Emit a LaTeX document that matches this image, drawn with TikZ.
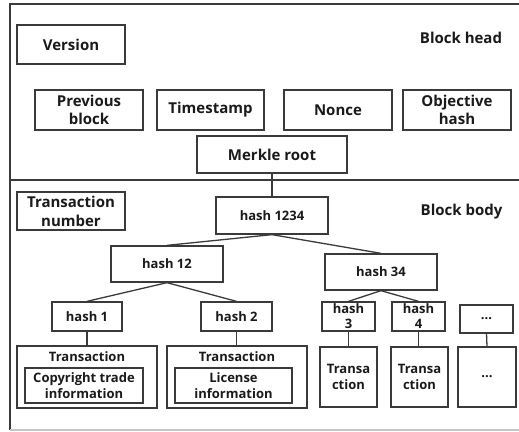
\documentclass[tikz,border=0pt]{standalone}
\usepackage{fontspec}
\setmainfont{Open Sans}
\definecolor{linec}{HTML}{3A3A3A}
\definecolor{textc}{HTML}{1A1A1A}
\begin{document}
\begin{tikzpicture}[x=1pt,y=-1pt,
  box/.style={draw=linec, line width=1.3pt, inner sep=0pt, align=center,
    text=textc, font=\bfseries\fontsize{15}{17.6}\selectfont},
  small/.style={font=\bfseries\fontsize{13}{15.5}\selectfont},
  lbl/.style={inner sep=0pt, align=center, text=textc,
    font=\bfseries\fontsize{13}{15}\selectfont},
  link/.style={draw=linec, line width=1.3pt},
  frame/.style={draw=linec, line width=1.3pt}]
\useasboundingbox (0,0) rectangle (519,431);

% outer frame and the head/body divider
\draw[frame] (10,430) -- (10,4) -- (530,4);
\draw[frame] (10,180) -- (530,180);
\draw[draw=gray!45, line width=1.3pt] (10,430) -- (530,430);

% block head
\node[box, minimum width=108pt, minimum height=39pt] (version) at (71,44.5) {Version};
\node[lbl, font=\bfseries\fontsize{15}{17}\selectfont] (headlbl) at (461,38) {Block head};
\node[box, minimum width=108pt, minimum height=40pt] (prev) at (89,110) {Previous\\block};
\node[box, minimum width=107pt, minimum height=40pt] (time) at (210.5,110) {Timestamp};
\node[box, minimum width=108pt, minimum height=40pt] (nonce) at (338,110) {Nonce};
\node[box, minimum width=108pt, minimum height=40pt] (target) at (457,110) {Objective\\hash};
\node[box, minimum width=150pt, minimum height=37pt] (root) at (272,154.5) {Merkle root};

% block body
\node[box, minimum width=108pt, minimum height=38pt] (txnum) at (71,211) {};
\node[lbl, font=\bfseries\fontsize{15}{19.5}\selectfont] (txnumtxt) at (71,211.5) {Transaction\\number};
\node[lbl, font=\bfseries\fontsize{15}{17}\selectfont] (bodylbl) at (461.5,212) {Block body};

\node[box, small, minimum width=112pt, minimum height=37pt] (h1234) at (272,215.5) {hash 1234};
\node[box, small, minimum width=112pt, minimum height=36pt] (h12) at (167,264) {hash 12};
\node[box, small, minimum width=112pt, minimum height=36pt] (h34) at (381,272) {hash 34};

\node[box, small, minimum width=70pt, minimum height=29pt] (h1) at (87,316.5) {hash 1};
\node[box, small, minimum width=71pt, minimum height=29pt] (h2) at (236.5,316.5) {hash 2};
\node[box, minimum width=53pt, minimum height=29pt] (h3) at (348.5,316.5) {};
\node[lbl] (h3txt) at (348.5,316.5) {hash\\3};
\node[box, minimum width=53pt, minimum height=29pt] (h4) at (418.5,316.5) {};
\node[lbl] (h4txt) at (418.5,316.5) {hash\\4};
\node[box, small, minimum width=53pt, minimum height=28pt] (hmore) at (486.5,319) {...};

% transactions
\node[box, minimum width=140pt, minimum height=62pt] (tx1) at (87,377) {};
\node[lbl] (tx1lbl) at (87,357) {Transaction};
\node[box, small, minimum width=118pt, minimum height=35pt] (tx1in) at (84,385.5) {Copyright trade\\information};
\node[box, minimum width=140pt, minimum height=62pt] (tx2) at (237,377) {};
\node[lbl] (tx2lbl) at (237,357) {Transaction};
\node[box, small, minimum width=117pt, minimum height=35pt] (tx2in) at (233.5,385.5) {License\\information};
\node[box, small, minimum width=57pt, minimum height=60pt] (tx3) at (348.5,377) {Transa\\ction};
\node[box, small, minimum width=57pt, minimum height=60pt] (tx4) at (419.5,377) {Transa\\ction};
\node[box, small, minimum width=58pt, minimum height=60pt] (txmore) at (487,377) {...};

% Merkle tree links
\draw[link] (root.south) -- (h1234.north);
\draw[link] (h1234.south) -- (h12.north);
\draw[link] (h1234.south) -- (h34.north);
\draw[link] (h12.south) -- (h1.north);
\draw[link] (h12.south) -- (h2.north);
\draw[link] (h34.south) -- (h3.north);
\draw[link] (h34.south) -- (h4.north);
\draw[link] (h1.south) -- (h1.south |- tx1.north);
\draw[link] (h2.south) -- (h2.south |- tx2.north);
\draw[link] (h3.south) -- (h3.south |- tx3.north);
\draw[link] (h4.south) -- (h4.south |- tx4.north);
\draw[link] (hmore.south) -- (txmore.north);
\end{tikzpicture}
\end{document}
